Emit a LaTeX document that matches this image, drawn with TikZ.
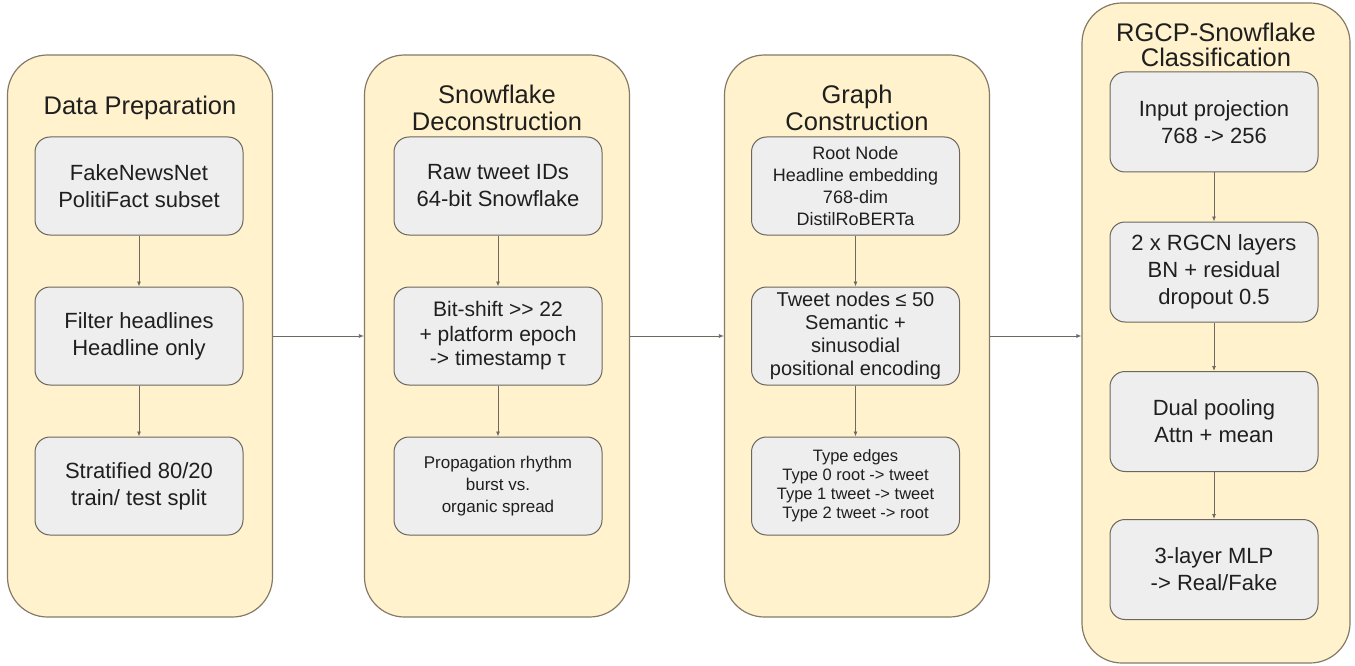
\documentclass[tikz,border=0pt]{standalone}
\usepackage{fontspec}
\setmainfont{Liberation Sans}
\usetikzlibrary{arrows.meta}
\definecolor{outerfill}{HTML}{FFF2CC}
\definecolor{outerdraw}{HTML}{857A66}
\definecolor{innerfill}{HTML}{EEEEEE}
\definecolor{innerdraw}{HTML}{6B665E}
\definecolor{arrowc}{HTML}{6E6A62}
\definecolor{txt}{HTML}{1F1F1F}
\begin{document}
\begin{tikzpicture}[x=1pt,y=-1pt,
 stage/.style={draw=outerdraw, fill=outerfill, line width=1.2pt, rounded corners=40pt, minimum width=265pt, inner sep=0pt},
 stagetitle/.style={text=txt, align=center, font=\fontsize{25.5}{27}\selectfont},
 proc/.style={draw=innerdraw, fill=innerfill, line width=1pt, rounded corners=15pt, minimum width=208pt, minimum height=98pt, text=txt, align=center, inner sep=2pt, font=\fontsize{22}{27}\selectfont},
 flow/.style={draw=arrowc, line width=0.8pt, -{Latex[length=5pt,width=4pt]}}
]
\useasboundingbox[fill=white] (0,0) rectangle (1355,666);

% outer stages
\node[stage, minimum height=562pt] (o1) at (140,336) {};
\node[stage, minimum height=562pt] (o2) at (497,336) {};
\node[stage, minimum height=562pt] (o3) at (857,336) {};
\node[stage, minimum height=660pt, minimum width=268pt] (o4) at (1216,333) {};

% titles
\node[stagetitle] (t1) at (140,108) {Data Preparation};
\node[stagetitle] (t2) at (497,108) {Snowflake\\Deconstruction};
\node[stagetitle] (t3) at (857,108) {Graph\\Construction};
\node[stagetitle, font=\fontsize{25.5}{24.5}\selectfont] (t4) at (1216,45) {RGCP-Snowflake\\Classification};

% column 1
\node[proc] (a1) at (139,186) {FakeNewsNet\\PolitiFact subset};
\node[proc] (a2) at (139,336) {Filter headlines\\Headline only};
\node[proc] (a3) at (139,486) {Stratified 80/20\\train/ test split};

% column 2
\node[proc] (b1) at (498,186) {Raw tweet IDs\\64-bit Snowflake};
\node[proc, font=\fontsize{21}{24.5}\selectfont] (b2) at (498,336) {Bit-shift >\kern0pt> 22\\+ platform epoch\\-> timestamp τ};
\node[proc, font=\fontsize{17}{22}\selectfont] (b3) at (498,486) {Propagation rhythm\\burst vs.\\organic spread};

% column 3
\node[proc, font=\fontsize{18}{22}\selectfont] (c1) at (855.5,186) {Root Node\\Headline embedding\\768-dim\\DistilRoBERTa};
\node[proc, font=\fontsize{20}{23}\selectfont] (c2) at (855.5,336) {Tweet nodes ≤ 50\\Semantic +\\sinusodial\\positional encoding};
\node[proc, font=\fontsize{16.5}{19}\selectfont] (c3) at (855.5,486) {Type edges\\Type 0 root -> tweet\\Type 1 tweet -> tweet\\Type 2 tweet -> root};

% column 4
\node[proc, minimum height=100pt] (d1) at (1214,122) {Input projection\\768 -> 256};
\node[proc, minimum height=100pt] (d2) at (1214,272) {2 x RGCN layers\\BN + residual\\dropout 0.5};
\node[proc, minimum height=100pt] (d3) at (1214,421.5) {Dual pooling\\Attn + mean};
\node[proc, minimum height=100pt] (d4) at (1214,569.5) {3-layer MLP\\-> Real/Fake};

% arrows inside columns
\draw[flow] (a1) -- (a2);
\draw[flow] (a2) -- (a3);
\draw[flow] (b1) -- (b2);
\draw[flow] (b2) -- (b3);
\draw[flow] (c1) -- (c2);
\draw[flow] (c2) -- (c3);
\draw[flow] (d1) -- (d2);
\draw[flow] (d2) -- (d3);
\draw[flow] (d3) -- (d4);

% arrows between stages
\draw[flow] (o1.east) -- (o2.west);
\draw[flow] (o2.east) -- (o3.west);
\draw[flow] (o3.east) -- (o3.east -| o4.west);
\end{tikzpicture}
\end{document}
